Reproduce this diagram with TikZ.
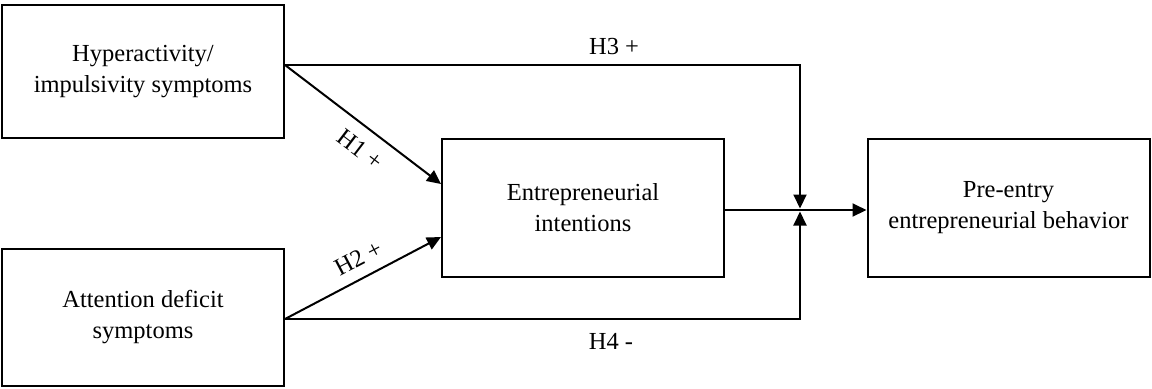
\documentclass[tikz,border=0pt]{standalone}
\usepackage{fontspec}
\setmainfont{Liberation Serif}
\usetikzlibrary{arrows.meta, calc}
\tikzset{
  every picture/.style={line width=1pt},
  box/.style={draw, rectangle, align=center, minimum width=141pt, minimum height=#1, inner sep=0pt, font=\fontsize{12.25}{15.5}\selectfont},
  box/.default=69pt,
  arrow/.style={-{Triangle[length=7pt, width=6.5pt]}},
  hyp/.style={font=\fontsize{12.25}{15.5}\selectfont},
}

\begin{document}
\begin{tikzpicture}[x=0.5pt, y=-0.5pt]
  \useasboundingbox (0,0) rectangle (1152,388);
  \node[box=66.5pt] (hyp) at (143,71.5) {Hyperactivity/\\impulsivity symptoms};
  \node[box=68.5pt] (att) at (143,317.5) {Attention deficit\\symptoms};
  \node[box] (int) at (583,208) {Entrepreneurial\\intentions};
  \node[box] (beh) at (1008.5,208) {Pre-entry\\entrepreneurial behavior};
  % start and meeting points of the paths
  \coordinate (hypout) at ($(hyp.east)+(0,-6.5)$);
  \coordinate (attout) at ($(att.east)+(0,1.5)$);
  \coordinate (join) at ($(int.east)+(75,2)$);
  \draw[arrow] (hypout) -- node[hyp, sloped, below=3pt, pos=0.566] {H1 +} ($(int.west)+(0,-24)$);
  \draw[arrow] (attout) -- node[hyp, sloped, above=2pt, pos=0.528] {H2 +} ($(int.west)+(0,29)$);
  \draw[arrow] (hypout) -- node[hyp, above=1.5pt, pos=0.639] {H3 +} (hypout -| join) -- ($(join)+(0,-1.5)$);
  \draw[arrow] (attout) -- node[hyp, below=3.5pt, pos=0.633] {H4 -} (attout -| join) -- ($(join)+(0,1.5)$);
  \draw[arrow] ($(int.east)+(0,2)$) -- ($(beh.west)+(0,2)$);
\end{tikzpicture}
\end{document}
